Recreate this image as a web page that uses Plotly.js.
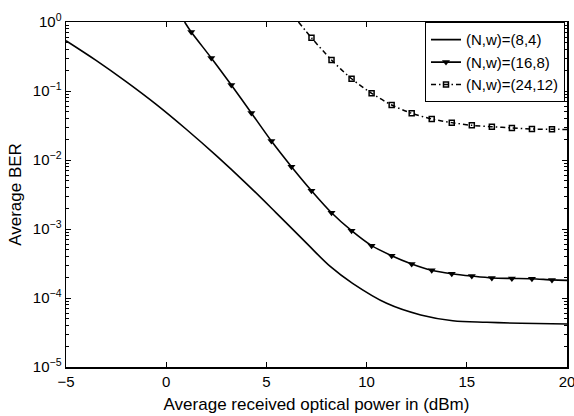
<!DOCTYPE html>
<html>
<head>
<meta charset="utf-8">
<script src="https://cdn.plot.ly/plotly-3.0.1.min.js"></script>
<style>html,body{margin:0;padding:0;background:#fff;}#chart{width:574px;height:416px;}</style>
</head>
<body>
<div id="chart"></div>
<script>
// (N,w)=(8,4) curve
const x84 = [-5, -3.5, -2, -0.5, 1, 2.5, 4, 5.5, 7, 8.2, 9.3, 11, 12.7, 14.3, 16, 17.7, 20];
const ber84 = [0.536, 0.278, 0.1368, 0.064, 0.0279, 0.01156, 0.00455, 0.0017, 0.000624, 0.000284, 0.000163, 8.37e-5, 5.68e-5, 4.69e-5, 4.45e-5, 4.30e-5, 4.2e-5];

// (N,w)=(16,8): markers
const x168m = [1.25, 2.25, 3.25, 4.25, 5.25, 6.25, 7.25, 8.25, 9.25, 10.25, 11.25, 12.25, 13.25, 14.25, 15.25, 16.25, 17.25, 18.25, 19.25];
const ber168m = [0.716, 0.301, 0.122, 0.048, 0.0188, 0.0080, 0.00359, 0.00172, 0.000944, 0.000573, 0.00041, 0.000311, 0.000252, 0.000225, 0.000208, 0.000195, 0.000192, 0.00019, 0.000183];
const x168ends = [0.92, 20];
const ber168ends = [1.0, 0.00018];

// (N,w)=(24,12): markers
const x2412m = [7.25, 8.25, 9.25, 10.25, 11.25, 12.25, 13.25, 14.25, 15.25, 16.25, 17.25, 18.25, 19.25];
const ber2412m = [0.591, 0.281, 0.1507, 0.0927, 0.0627, 0.0475, 0.0393, 0.0348, 0.0318, 0.0304, 0.0291, 0.0281, 0.0279];
const x2412ends = [6.6, 20];
const ber2412ends = [1.0, 0.0277];

const yTickVals = [1e-5, 1e-4, 1e-3, 1e-2, 1e-1, 1];
const yTickText = ['10<sup>−5</sup>', '10<sup>−4</sup>', '10<sup>−3</sup>', '10<sup>−2</sup>', '10<sup>−1</sup>', '10<sup>0</sup>'];
const xTickVals = [-5, 0, 5, 10, 15, 20];
const xTickText = ['−5', '0', '5', '10', '15', '20'];

const labels = ['(N,w)=(8,4)', '(N,w)=(16,8)', '(N,w)=(24,12)'];

const x168full = [x168ends[0]].concat(x168m, [x168ends[1]]);
const y168full = [ber168ends[0]].concat(ber168m, [ber168ends[1]]);
const x2412full = [x2412ends[0]].concat(x2412m, [x2412ends[1]]);
const y2412full = [ber2412ends[0]].concat(ber2412m, [ber2412ends[1]]);

const dashDot = '5px,3px,1.5px,3px';

const traces = [
  {x: x84, y: ber84, mode: 'lines', name: labels[0],
   line: {color: '#000', width: 1.6, shape: 'spline', smoothing: 1}},
  {x: x168full, y: y168full, mode: 'lines', showlegend: false, hoverinfo: 'skip',
   line: {color: '#000', width: 1.6, shape: 'spline', smoothing: 0.8}},
  {x: x168m, y: ber168m, mode: 'markers', name: labels[1], showlegend: false,
   marker: {symbol: 'triangle-down', size: 7, color: '#000', line: {width: 0}}},
  {x: [null], y: [null], mode: 'lines+markers', name: labels[1],
   line: {color: '#000', width: 1.6},
   marker: {symbol: 'triangle-down', size: 7, color: '#000'}},
  {x: x2412full, y: y2412full, mode: 'lines', showlegend: false, hoverinfo: 'skip',
   line: {color: '#000', width: 1.5, dash: dashDot, shape: 'spline', smoothing: 0.8}},
  {x: x2412m, y: ber2412m, mode: 'markers', name: labels[2], showlegend: false,
   marker: {symbol: 'square-open', size: 5, color: '#000', line: {width: 1.5, color: '#000'}}},
  {x: [null], y: [null], mode: 'lines+markers', name: labels[2],
   line: {color: '#000', width: 1.5, dash: dashDot},
   marker: {symbol: 'square-open', size: 5, color: '#000', line: {width: 1.5, color: '#000'}}}
];

const layout = {
  width: 574, height: 416,
  margin: {l: 66, r: 7, t: 22, b: 49},
  paper_bgcolor: '#fff', plot_bgcolor: '#fff',
  font: {family: 'Liberation Sans, Arial, sans-serif', size: 15, color: '#000'},
  showlegend: true,
  legend: {x: 0.996, y: 0.999, xanchor: 'right', yanchor: 'top',
           bgcolor: '#fff', bordercolor: '#000', borderwidth: 1,
           font: {size: 15}, tracegroupgap: 0, itemwidth: 30},
  xaxis: {
    range: [-5, 20], tickmode: 'array', tickvals: xTickVals, ticktext: xTickText,
    ticks: 'inside', ticklen: 5, tickwidth: 1, tickcolor: '#000',
    showline: true, linecolor: '#000', linewidth: 1.5, mirror: 'ticks',
    showgrid: false, zeroline: false, ticklabeloverflow: 'allow',
    tickfont: {size: 15},
    title: {text: 'Average received optical power in (dBm)', font: {size: 17}, standoff: 9}
  },
  yaxis: {
    type: 'log', range: [-5, 0],
    tickmode: 'array', tickvals: yTickVals, ticktext: yTickText,
    ticks: 'inside', ticklen: 5, tickwidth: 1, tickcolor: '#000',
    showline: true, linecolor: '#000', linewidth: 1.5, mirror: 'ticks',
    showgrid: false, zeroline: false,
    tickfont: {size: 15},
    minor: {ticks: 'inside', ticklen: 3, tickcolor: '#000', dtick: 'D1', showgrid: false},
    title: {text: 'Average BER', font: {size: 17}, standoff: 7}
  }
};

Plotly.newPlot('chart', traces, layout, {displayModeBar: false, staticPlot: true});
</script>
</body>
</html>
